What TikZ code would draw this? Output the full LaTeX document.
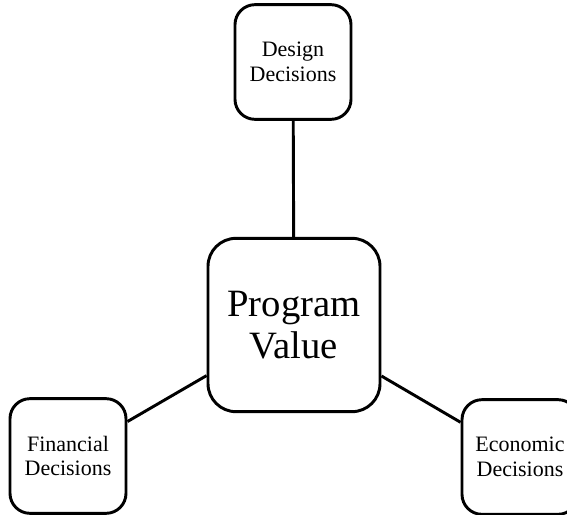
\documentclass[tikz,border=0pt]{standalone}
\usepackage{fontspec}
\setmainfont{Liberation Serif}
\usetikzlibrary{positioning}

\begin{document}
\begin{tikzpicture}[x=0.75pt,y=-0.75pt,line width=2.2pt,
  dec/.style={draw,rounded corners=15pt,align=center,minimum width=87pt,minimum height=86pt,
    inner sep=2pt,font=\fontsize{16.5}{18.5}\selectfont},
  val/.style={draw,rounded corners=21pt,align=center,minimum width=129pt,minimum height=130pt,
    font=\fontsize{29}{32}\selectfont}]
\useasboundingbox (0,0) rectangle (567,514);
\node[val] (pv) at (294,325) {Program\\Value};
\node[dec] (design) at (293,62) {Design\\Decisions};
\node[dec] (fin) at (68,456) {Financial\\Decisions};
\node[dec] (eco) at (520,457) {Economic\\Decisions};
\draw (design) -- (pv);
\draw (fin) -- (pv);
\draw (eco) -- (pv);
\end{tikzpicture}
\end{document}
